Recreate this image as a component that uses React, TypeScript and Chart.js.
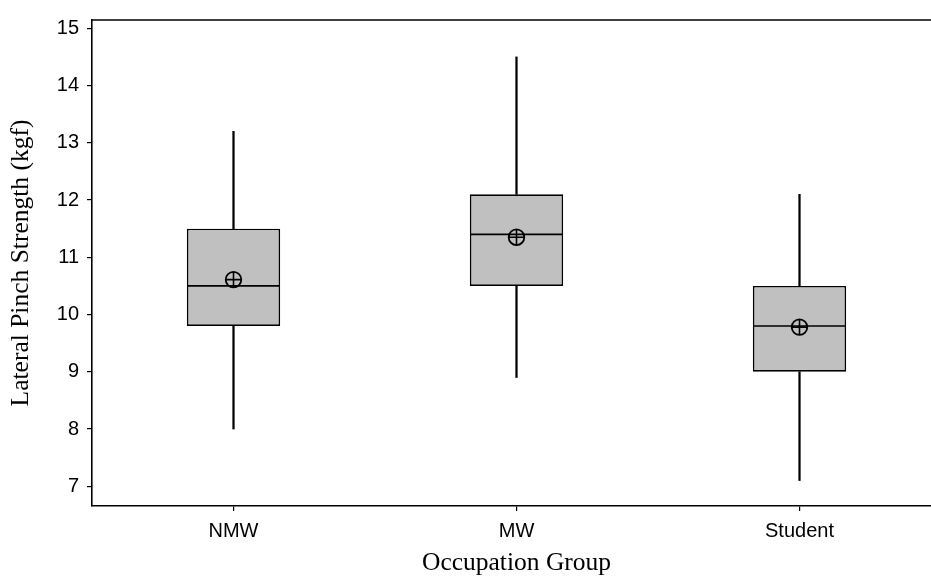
import React, { useEffect, useRef } from "react";
import { Chart, registerables } from "chart.js";

Chart.register(...registerables);

const categories = ["NMW", "MW", "Student"];
const whiskerLow = [8.0, 8.9, 7.1];
const q1 = [9.8, 10.5, 9.0];
const median = [10.5, 11.4, 9.8];
const q3 = [11.5, 12.1, 10.5];
const whiskerHigh = [13.2, 14.5, 12.1];
const means = [10.61, 11.35, 9.78];
const yTicks = [7, 8, 9, 10, 11, 12, 13, 14, 15];

const xTitle = "Occupation Group";
const yTitle = "Lateral Pinch Strength (kgf)";

const frameTop = {
  id: "frameTop",
  afterDraw(chart: any) {
    const { ctx, chartArea } = chart;
    ctx.save();
    ctx.strokeStyle = "#000";
    ctx.lineWidth = 1.6;
    ctx.beginPath();
    ctx.moveTo(chartArea.left, chartArea.top);
    ctx.lineTo(chartArea.right, chartArea.top);
    ctx.stroke();
    ctx.restore();
  },
};

export default function App() {
  const ref = useRef<HTMLCanvasElement | null>(null);

  useEffect(() => {
    if (!ref.current) return;
    const tickFont = { family: "'Liberation Sans', Arial, sans-serif", size: 20 };
    const titleFont = { family: "'Liberation Serif', serif", size: 25.5 };
    const chart = new Chart(ref.current, {
      type: "bar",
      data: {
        labels: categories,
        datasets: [
          {
            type: "line",
            data: means,
            showLine: false,
            pointStyle: "cross",
            pointRadius: 7.8,
            pointHoverRadius: 7.8,
            borderColor: "#000",
            borderWidth: 1.6,
            order: 0,
          } as any,
          {
            type: "line",
            data: means,
            showLine: false,
            pointStyle: "circle",
            pointRadius: 7.8,
            pointHoverRadius: 7.8,
            borderColor: "#000",
            backgroundColor: "rgba(0,0,0,0)",
            borderWidth: 1.8,
            order: 1,
          } as any,
          {
            type: "line",
            data: median,
            showLine: false,
            pointStyle: "line",
            pointRadius: 46.5,
            pointHoverRadius: 46.5,
            borderColor: "#000",
            borderWidth: 1.6,
            order: 2,
          } as any,
          {
            type: "bar",
            data: categories.map((_, i) => [q1[i], q3[i]]),
            backgroundColor: "#c0c0c0",
            borderColor: "#000",
            borderWidth: 1.7,
            borderSkipped: false,
            grouped: false,
            barPercentage: 0.33,
            categoryPercentage: 1,
            order: 3,
          } as any,
          {
            type: "bar",
            data: categories.map((_, i) => [q3[i], whiskerHigh[i]]),
            backgroundColor: "#000",
            borderWidth: 0,
            grouped: false,
            barThickness: 1.6,
            order: 4,
          } as any,
          {
            type: "bar",
            data: categories.map((_, i) => [whiskerLow[i], q1[i]]),
            backgroundColor: "#000",
            borderWidth: 0,
            grouped: false,
            barThickness: 1.6,
            order: 5,
          } as any,
        ],
      },
      options: {
        animation: false,
        responsive: true,
        maintainAspectRatio: false,
        layout: { autoPadding: false, padding: { top: 12, left: 0, right: 10, bottom: 0 } },
        plugins: { legend: { display: false }, tooltip: { enabled: false } },
        scales: {
          x: {
            type: "category",
            offset: true,
            grid: {
              display: true,
              offset: false,
              drawOnChartArea: false,
              drawTicks: true,
              tickLength: 5,
              color: "#000",
              lineWidth: 1.2,
            },
            border: { display: true, color: "#000", width: 1.6 },
            ticks: { color: "#000", font: tickFont, padding: 8 },
            title: {
              display: true,
              text: xTitle,
              color: "#000",
              font: titleFont,
              padding: { top: 0, bottom: 0 },
            },
            afterFit: (s: any) => {
              s.height = 73;
            },
          },
          y: {
            type: "linear",
            min: 6.655,
            max: 15.145,
            grid: {
              drawOnChartArea: false,
              drawTicks: true,
              tickLength: 5,
              color: "#000",
              lineWidth: 1.2,
            },
            border: { display: true, color: "#000", width: 1.6 },
            ticks: { color: "#000", font: tickFont, padding: 8 },
            afterBuildTicks: (s: any) => {
              s.ticks = yTicks.map((v) => ({ value: v }));
            },
            title: {
              display: true,
              text: yTitle,
              color: "#000",
              font: titleFont,
              padding: { top: 6, bottom: 0 },
            },
            afterFit: (s: any) => {
              s.width = 92;
            },
          },
        },
      },
      plugins: [frameTop],
    });
    return () => chart.destroy();
  }, []);

  return (
    <div
      style={{
        position: "fixed",
        left: 0,
        top: 0,
        width: 931,
        height: 579,
        overflow: "hidden",
        background: "#fff",
      }}
    >
      <div style={{ position: "relative", width: 951, height: 579 }}>
        <canvas ref={ref} />
      </div>
    </div>
  );
}
